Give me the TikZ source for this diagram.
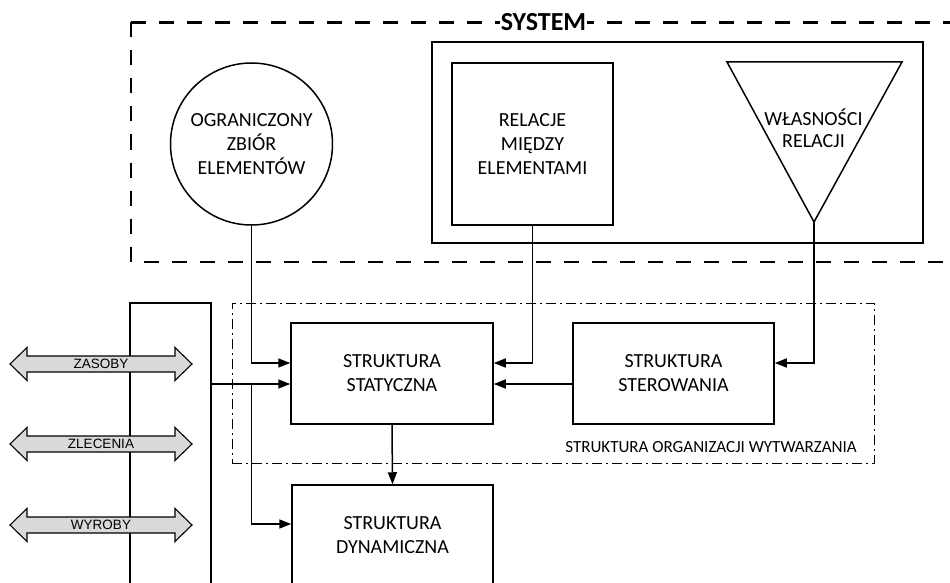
\documentclass[tikz,border=0pt]{standalone}
\usepackage{fontspec}
\setmainfont{Carlito}
\newfontfamily\arrowfont{Liberation Sans}
\usetikzlibrary{arrows.meta}

\tikzset{
  sysline/.style={line width=2.4pt, dash pattern=on 15pt off 13pt},
  orgline/.style={line width=1pt, dash pattern=on 10pt off 4pt on 2pt off 4pt},
  block/.style={draw, line width=1.5pt, inner sep=0pt, align=center,
    font=\fontsize{20}{24}\selectfont},
  conn/.style={line width=1.5pt, -{Triangle[length=12pt,width=9pt]}},
  plain/.style={line width=1.5pt},
  pics/flowarrow/.style={code={
    \path[draw, fill=black!15, line width=1.1pt, line join=miter]
      (-91,0) -- (-74,-16.5) -- (-74,-8) -- (74,-8) -- (74,-16.5) -- (91,0)
      -- (74,16.5) -- (74,8) -- (-74,8) -- (-74,16.5) -- cycle;
    \node[inner sep=0pt, font=\arrowfont\fontsize{13.5}{13.5}\selectfont] (-txt) {#1};
  }}
}

\begin{document}
\begin{tikzpicture}[x=1pt, y=-1pt]
  \clip (0,0) rectangle (950,583);

  % system boundary
  \draw[sysline] (131,22.5) -- (960,22.5);
  \draw[sysline] (131,22.5) -- (131,262) -- (960,262);
  \node[fill=white, inner xsep=1pt, inner ysep=2pt,
        font=\bfseries\fontsize{26}{26}\selectfont] (sys) at (543.5,22) {SYSTEM};

  % elements of the system
  \node[block, circle, minimum size=162pt] (elem) at (251.5,144)
    {OGRANICZONY\\ZBIÓR\\ELEMENTÓW};
  \node[draw, line width=1.5pt, minimum width=491pt, minimum height=201pt] (relframe)
    at (677.5,142.5) {};
  \node[block, minimum width=161pt, minimum height=162pt] (rel) at (532.5,144)
    {RELACJE\\MIĘDZY\\ELEMENTAMI};
  \coordinate (triL) at (727,62);
  \coordinate (triR) at (902,62);
  \coordinate (triT) at (814,222);
  \draw[plain, line join=miter] (triL) -- (triR) -- (triT) -- cycle;
  \node[inner sep=0pt, align=center, font=\fontsize{20}{22}\selectfont] (props)
    at (813.5,128) {WŁASNOŚCI\\RELACJI};

  % organisation of production
  \node[orgline, draw, minimum width=642pt, minimum height=160pt] (org) at (553,383) {};
  \node[inner sep=0pt, font=\fontsize{17}{17}\selectfont] (orglbl) at (711,447)
    {STRUKTURA ORGANIZACJI WYTWARZANIA};
  \node[block, minimum width=202pt, minimum height=101pt] (stat) at (392,373.5)
    {STRUKTURA\\STATYCZNA};
  \node[block, minimum width=201pt, minimum height=101pt] (ster) at (673.5,373.5)
    {STRUKTURA\\STEROWANIA};
  \node[block, minimum width=201pt, minimum height=101pt] (dyn) at (392.5,535.5)
    {STRUKTURA\\DYNAMICZNA};

  % flow bus
  \coordinate (busA) at (130,600);
  \coordinate (busB) at (130,303);
  \coordinate (busC) at (211,303);
  \coordinate (busD) at (211,600);
  \draw[plain] (busA) -- (busB) -- (busC) -- (busD);
  \coordinate (tap) at (211,384);

  % connectors
  \draw[conn] (elem.south) |- ([yshift=10.5pt]stat.west);
  \draw[conn] (rel.south) |- ([yshift=10.5pt]stat.east);
  \draw[conn] (triT) |- ([yshift=10.5pt]ster.east);
  \draw[conn] ([yshift=-10.5pt]ster.west) -- ([yshift=-10.5pt]stat.east);
  \draw[conn] (tap) -- ([yshift=-10.5pt]stat.west);
  \draw[conn] (elem.south |- tap) |- ([yshift=11.5pt]dyn.west);
  \draw[conn] (stat.south) -- (dyn.north);

  % flows
  \pic (zas) at (101,364) {flowarrow=ZASOBY};
  \pic (zle) at (101,444) {flowarrow=ZLECENIA};
  \pic (wyr) at (101,525) {flowarrow=WYROBY};
\end{tikzpicture}
\end{document}
